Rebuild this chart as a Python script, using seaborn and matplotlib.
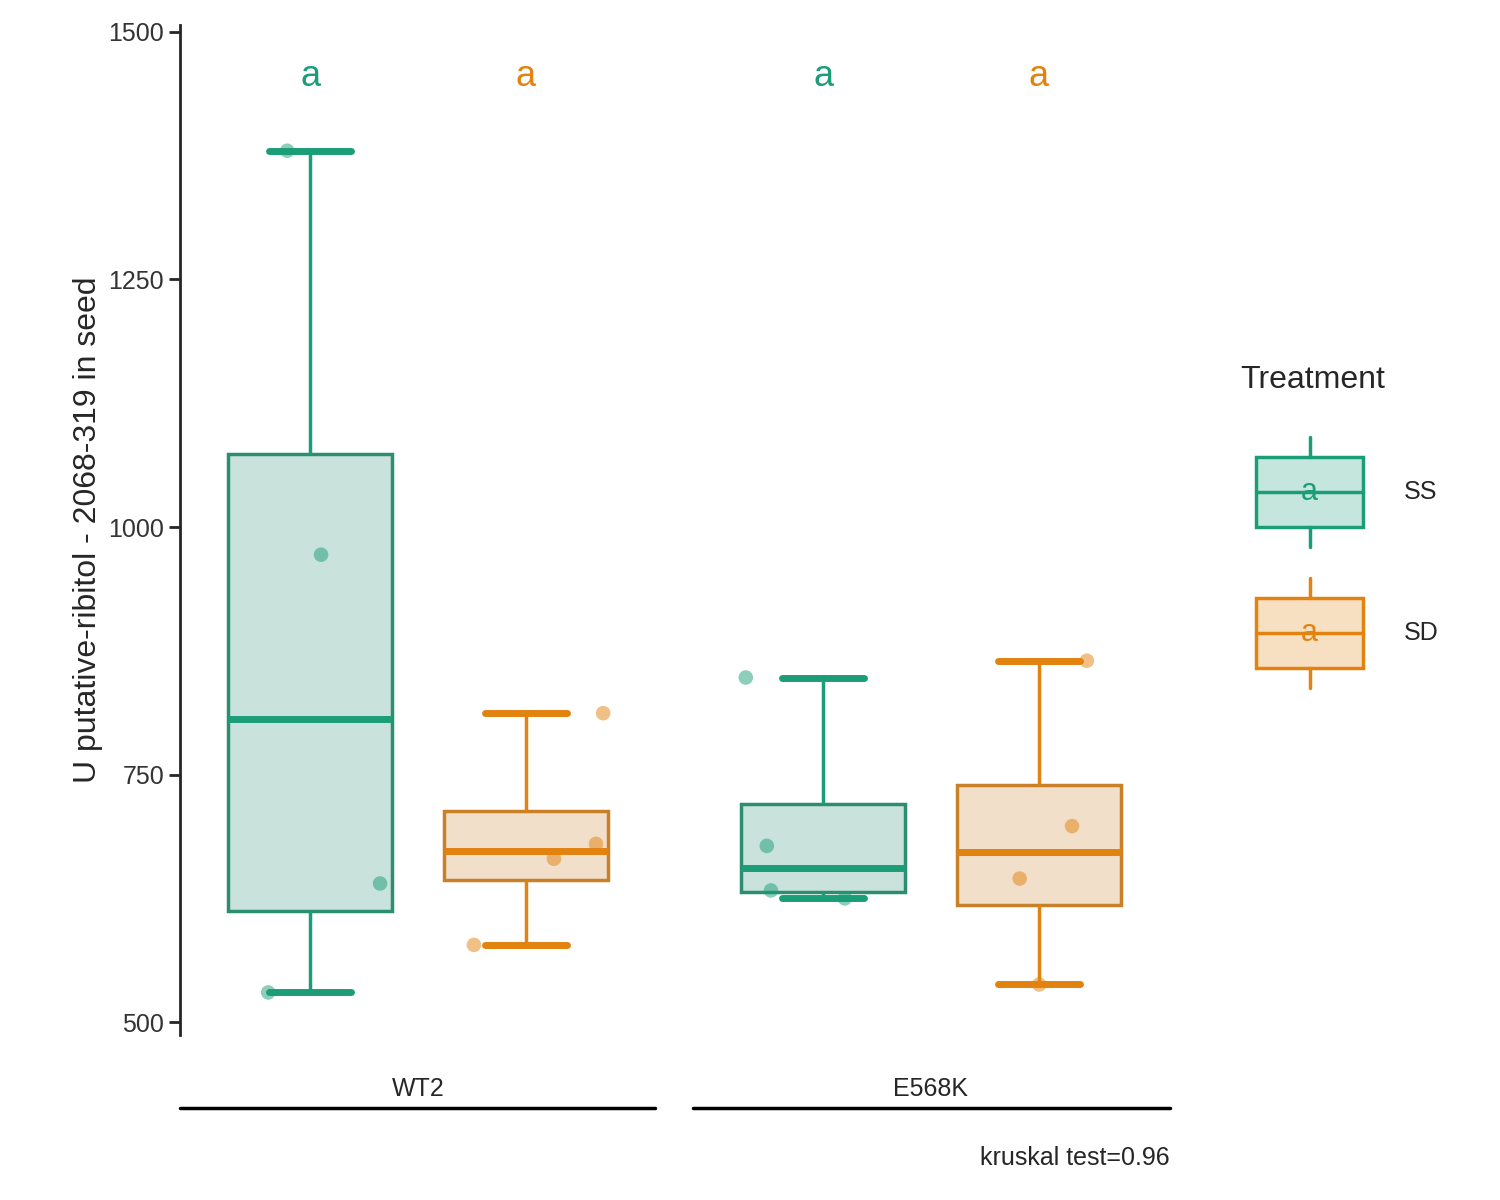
import numpy as np
import pandas as pd
import seaborn as sns
import matplotlib.pyplot as plt
from matplotlib.colors import to_rgb
from matplotlib.patches import Rectangle
from matplotlib.lines import Line2D

genotypes = ["WT2", "E568K"]
treatments = ["SS", "SD"]
wt2_ss = [1380, 972, 640, 530]
wt2_sd = [578, 665, 680, 812]
e568k_ss = [848, 678, 633, 625]
e568k_sd = [538, 645, 698, 865]
# horizontal jitter of each point (category units)
wt2_ss_jit = [-0.255, -0.189, -0.074, -0.292]
wt2_sd_jit = [0.109, 0.265, 0.347, 0.361]
e568k_ss_jit = [-0.361, -0.320, -0.312, -0.168]
e568k_sd_jit = [0.211, 0.173, 0.275, 0.304]
letters = ["a", "a", "a", "a"]
kruskal_p = 0.96

colors = {"SS": "#1B9E77", "SD": "#E2820F"}

rows = []
for g, t, vals, jit in [("WT2", "SS", wt2_ss, wt2_ss_jit), ("WT2", "SD", wt2_sd, wt2_sd_jit),
                        ("E568K", "SS", e568k_ss, e568k_ss_jit), ("E568K", "SD", e568k_sd, e568k_sd_jit)]:
    for v, j in zip(vals, jit):
        rows.append({"Genotype": g, "Treatment": t, "value": v, "xpos": genotypes.index(g) + j})
df = pd.DataFrame(rows)

sns.set_style("ticks")
plt.rcParams['font.family'] = ['Liberation Sans', 'DejaVu Sans']

fig = plt.figure(figsize=(15, 12), dpi=100)
ax = fig.add_axes([0.12, 0.1375, 0.66, 0.8417])

sns.boxplot(data=df, x="Genotype", y="value", hue="Treatment", order=genotypes, hue_order=treatments,
            width=0.84, gap=0.24, whis=10, fliersize=0, linewidth=2.5, ax=ax, legend=False,
            palette=colors)

# ggplot-like boxes: translucent fill, coloured outline, coloured whiskers/medians
for patch in ax.patches:
    fc = patch.get_facecolor()
    patch.set_edgecolor(fc[:3])
    patch.set_facecolor((*fc[:3], 0.25))
    patch.set_linewidth(2.5)
for art in ax.lines:
    xd = np.asarray(art.get_xdata(), dtype=float)
    if len(xd) == 0:
        continue
    xm = xd.mean()
    frac = xm - round(xm)
    art.set_color(colors["SS"] if frac < 0 else colors["SD"])
    art.set_linewidth(2.5)
    if len(xd) == 2 and xd[0] != xd[1]:
        art.set_linewidth(5)

sns.scatterplot(data=df, x="xpos", y="value", hue="Treatment", palette=colors, hue_order=treatments,
                alpha=0.5, s=110, edgecolor="none", ax=ax, legend=False, zorder=5)

offs = [-0.21, 0.21]
k = 0
for gi, g in enumerate(genotypes):
    for ti, t in enumerate(treatments):
        ax.text(gi + offs[ti], 1455, letters[k], color=colors[t], fontsize=26, ha="center", va="center")
        k += 1

ax.set_xlim(-0.464, 1.466)
ax.set_ylim(487, 1507)
ax.set_yticks([500, 750, 1000, 1250, 1500])
ax.tick_params(axis="y", labelsize=18, width=2, length=8, labelcolor="#333333")
ax.tick_params(axis="x", length=0, labelsize=18, pad=30)
ax.set_xlabel("")
ax.set_ylabel("U putative-ribitol - 2068-319 in seed", fontsize=23)
for s in ["top", "right", "bottom"]:
    ax.spines[s].set_visible(False)
ax.spines["left"].set_linewidth(2)

# group brackets
fig.add_artist(Line2D([180 / 1500, 655 / 1500], [1 - 1108 / 1200] * 2, color="black", lw=2.5))
fig.add_artist(Line2D([693 / 1500, 1170 / 1500], [1 - 1108 / 1200] * 2, color="black", lw=2.5))
fig.text(1170 / 1500, 1 - 1158 / 1200, f"kruskal test={kruskal_p}", ha="right", va="center", fontsize=18)

# legend
fig.text(1240 / 1500, 1 - 380 / 1200, "Treatment", fontsize=23, va="center")
for t, yc in [("SS", 492), ("SD", 633)]:
    c = colors[t]
    x0, x1 = 1256 / 1500, 1363 / 1500
    yb, yt = 1 - (yc + 35) / 1200, 1 - (yc - 35) / 1200
    fig.add_artist(Rectangle((x0, yb), x1 - x0, yt - yb, facecolor=(*to_rgb(c), 0.25),
                             edgecolor=c, lw=2.5, transform=fig.transFigure))
    fig.add_artist(Line2D([x0, x1], [1 - yc / 1200] * 2, color=c, lw=2.5))
    xm = (x0 + x1) / 2
    fig.add_artist(Line2D([xm, xm], [yt, yt + 20 / 1200], color=c, lw=2.5))
    fig.add_artist(Line2D([xm, xm], [yb, yb - 20 / 1200], color=c, lw=2.5))
    fig.text(xm, 1 - yc / 1200, "a", color=c, fontsize=22, ha="center", va="center")
    fig.text(1404 / 1500, 1 - yc / 1200, t, fontsize=18, va="center")

fig.savefig("out.png", dpi=100)
